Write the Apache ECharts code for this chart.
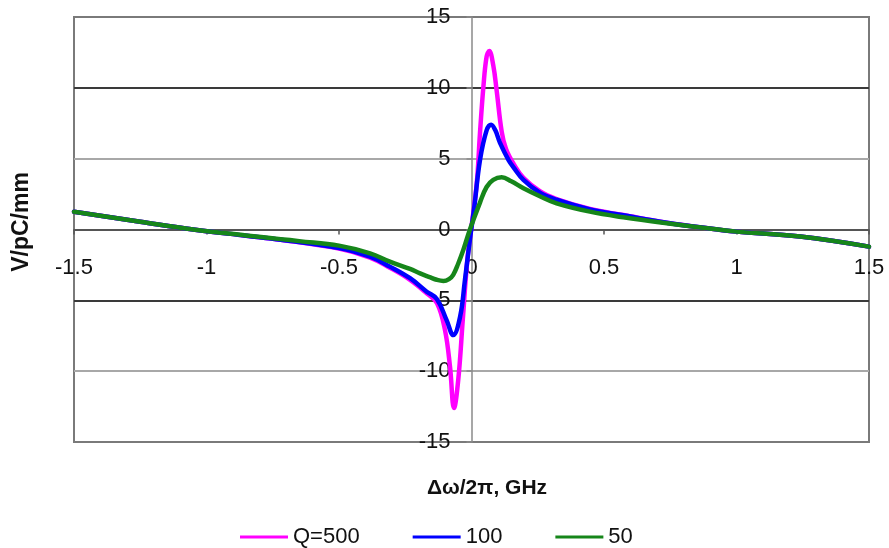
<!DOCTYPE html>
<html>
<head>
<meta charset="utf-8">
<script src="https://cdn.jsdelivr.net/npm/echarts@6/dist/echarts.min.js"></script>
<style>
  html, body { margin: 0; padding: 0; background: #fff; }
  #chart { width: 889px; height: 548px; }
</style>
</head>
<body>
<div id="chart"></div>
<script>
// Detuning (GHz) and wake response (V/pC/mm) for three quality factors
const q500X = [-1.5, -1.25, -1.05, -0.85, -0.72, -0.5, -0.383, -0.308, -0.232, -0.169, -0.13, -0.1, -0.081, -0.066, -0.05, -0.033, -0.016, 0, 0.02, 0.032, 0.045, 0.057, 0.067, 0.082, 0.095, 0.114, 0.13, 0.16, 0.196, 0.258, 0.321, 0.447, 0.573, 0.737, 0.93, 1.0, 1.24, 1.5];
const q500Y = [1.25, 0.55, 0.0, -0.44, -0.72, -1.35, -1.98, -2.7, -3.55, -4.5, -5.2, -7.1, -9.7, -12.6, -10.6, -6.4, -2.2, 0.2, 3.3, 6.8, 10.1, 12.2, 12.6, 11.6, 9.8, 6.9, 5.7, 4.6, 3.65, 2.7, 2.15, 1.45, 1.02, 0.48, 0.0, -0.15, -0.5, -1.21];

const q100X = [-1.5, -1.25, -1.05, -0.85, -0.72, -0.5, -0.383, -0.308, -0.232, -0.169, -0.131, -0.094, -0.069, -0.043, -0.025, -0.006, 0.01, 0.032, 0.057, 0.074, 0.09, 0.108, 0.14, 0.158, 0.196, 0.258, 0.321, 0.447, 0.573, 0.737, 0.93, 1.0, 1.24, 1.5];
const q100Y = [1.25, 0.55, 0.0, -0.44, -0.72, -1.3, -1.92, -2.62, -3.44, -4.39, -4.9, -6.4, -7.45, -6.15, -3.6, -0.7, 1.5, 4.9, 7.0, 7.4, 7.0, 6.1, 4.9, 4.4, 3.5, 2.6, 2.1, 1.42, 1.0, 0.48, 0.0, -0.15, -0.5, -1.21];

const q50X = [-1.5, -1.25, -1.05, -0.85, -0.72, -0.65, -0.5, -0.383, -0.308, -0.232, -0.194, -0.155, -0.131, -0.106, -0.085, -0.069, -0.05, -0.031, -0.006, 0.032, 0.057, 0.082, 0.114, 0.15, 0.196, 0.258, 0.321, 0.447, 0.573, 0.737, 0.93, 1.0, 1.24, 1.5];
const q50Y = [1.25, 0.55, 0.0, -0.42, -0.68, -0.82, -1.14, -1.68, -2.27, -2.78, -3.1, -3.38, -3.55, -3.63, -3.5, -3.2, -2.4, -1.45, 0.0, 1.9, 3.0, 3.5, 3.68, 3.4, 2.91, 2.35, 1.85, 1.26, 0.86, 0.44, 0.0, -0.15, -0.5, -1.21];

const seriesNames = ['Q=500', '100', '50'];
const seriesColors = ['#ff00ff', '#0000ff', '#16861a'];

const xRange = { min: -1.5, max: 1.5, step: 0.5 };
const yRange = { min: -15, max: 15, step: 5 };

const pairs = (xs, ys) => xs.map((x, i) => [x, ys[i]]);
const curves = [pairs(q500X, q500Y), pairs(q100X, q100Y), pairs(q50X, q50Y)];

const FONT = '"Liberation Sans", Arial, sans-serif';

const GRID = { left: 74, right: 20, top: 17, bottom: 106 };
const W = 889, H = 548;
const plotW = W - GRID.left - GRID.right;
const plotH = H - GRID.top - GRID.bottom;
// both axes cross at the origin, so shift them inward from the plot edges
const yAxisShift = -plotW * (0 - xRange.min) / (xRange.max - xRange.min);
const xAxisShift = -plotH * (0 - yRange.min) / (yRange.max - yRange.min);

const chart = echarts.init(document.getElementById('chart'), null, { renderer: 'canvas' });

chart.setOption({
  animation: false,
  backgroundColor: '#ffffff',
  grid: Object.assign({
    show: true, borderColor: '#7a7a7a', borderWidth: 2, backgroundColor: 'transparent'
  }, GRID),
  legend: {
    data: seriesNames,
    left: 235,
    top: 521,
    icon: 'rect',
    itemWidth: 48,
    itemHeight: 3,
    itemGap: 53,
    textStyle: { fontFamily: FONT, fontSize: 22, color: '#111' }
  },
  xAxis: {
    type: 'value',
    position: 'bottom',
    offset: xAxisShift,
    min: xRange.min, max: xRange.max, interval: xRange.step,
    axisLine: { onZero: false, lineStyle: { color: '#555', width: 1.5 } },
    axisTick: { show: true, length: 5, lineStyle: { color: '#555', width: 1.5 } },
    axisLabel: {
      margin: 27, fontFamily: FONT, fontSize: 22, color: '#111',
      showMinLabel: true, showMaxLabel: true,
      formatter: v => String(v)
    },
    splitLine: { show: false }
  },
  yAxis: {
    type: 'value',
    position: 'left',
    offset: yAxisShift,
    min: yRange.min, max: yRange.max, interval: yRange.step,
    axisLine: { onZero: false, lineStyle: { color: '#8a8a8a', width: 1.5 } },
    axisTick: { show: true, length: 5, lineStyle: { color: '#8a8a8a', width: 1.5 } },
    axisLabel: {
      margin: 21, fontFamily: FONT, fontSize: 22, color: '#111',
      showMinLabel: true, showMaxLabel: true
    },
    splitLine: {
      show: true,
      lineStyle: {
        width: 2,
        color: ['#7a7a7a', '#a8a8a8', '#3a3a3a', '#555555', '#a8a8a8', '#3a3a3a', '#7a7a7a']
      }
    }
  },
  graphic: [
    {
      type: 'text',
      x: 487, y: 488,
      style: {
        text: 'Δω/2π, GHz',
        font: 'bold 21px ' + FONT,
        fill: '#111',
        align: 'center',
        verticalAlign: 'middle'
      }
    },
    {
      type: 'text',
      x: 22, y: 222,
      rotation: Math.PI / 2,
      style: {
        text: 'V/pC/mm',
        font: 'bold 23px ' + FONT,
        fill: '#111',
        align: 'center',
        verticalAlign: 'middle'
      }
    }
  ],
  series: curves.map((data, i) => ({
    name: seriesNames[i],
    type: 'line',
    data: data,
    showSymbol: false,
    smooth: 0.4,
    color: seriesColors[i],
    lineStyle: { width: 4.5, color: seriesColors[i], join: 'round', cap: 'round' },
    z: 3 + i
  }))
});
</script>
</body>
</html>
